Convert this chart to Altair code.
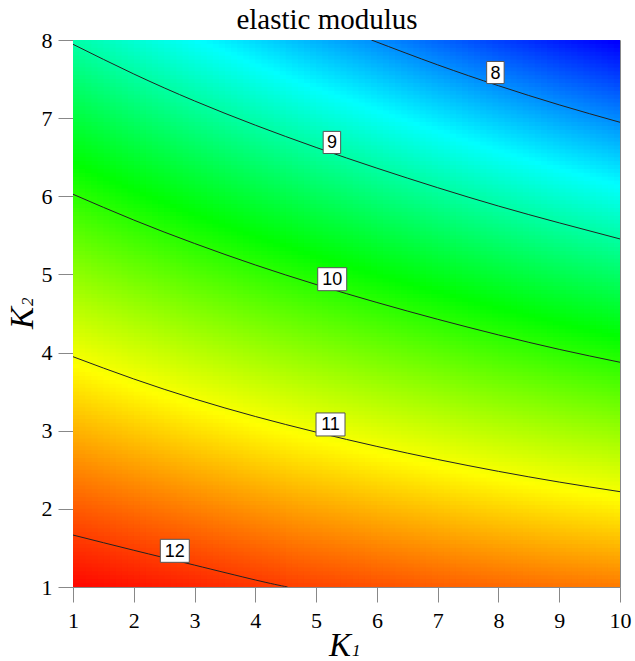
import altair as alt
import numpy as np
import pandas as pd

# ---------------- data ----------------
title_text = "elastic modulus"
k1_ticks = [1, 2, 3, 4, 5, 6, 7, 8, 9, 10]
k2_ticks = [1, 2, 3, 4, 5, 6, 7, 8]

k1_int = [1, 2, 3, 4, 5, 6, 7, 8, 9, 10]

lvl8_k1 = [5.91, 7, 8, 9, 10]
lvl8_k2 = [8.0, 7.682, 7.415, 7.17, 6.947]

lvl9_k1 = k1_int
lvl9_k2 = [7.945, 7.565, 7.22, 6.91, 6.625, 6.36, 6.11, 5.875, 5.66, 5.454]

lvl10_k1 = k1_int
lvl10_k2 = [6.026, 5.696, 5.396, 5.121, 4.871, 4.641, 4.426, 4.226, 4.041, 3.876]

lvl11_k1 = k1_int
lvl11_k2 = [3.947, 3.662, 3.407, 3.182, 2.982, 2.799, 2.632, 2.48, 2.343, 2.22]

lvl12_k1 = [1, 2, 3, 4, 4.53]
lvl12_k2 = [1.665, 1.47, 1.28, 1.09, 1.0]

label_text = ["8", "9", "10", "11", "12"]
label_k1 = [7.95, 5.26, 5.265, 5.237, 2.675]
label_k2 = [7.584, 6.689, 4.939, 3.080, 1.463]

color_domain = [7.3, 8.55, 9.8, 11.05, 12.3]
color_range = ["#0000ff", "#00ffff", "#00ff00", "#ffff00", "#ff0000"]

# ---------------- tables ----------------
contours = {
    8: (lvl8_k1, lvl8_k2),
    9: (lvl9_k1, lvl9_k2),
    10: (lvl10_k1, lvl10_k2),
    11: (lvl11_k1, lvl11_k2),
    12: (lvl12_k1, lvl12_k2),
}

line_rows = []
for lv, (ks, ls) in contours.items():
    for i, (a, b) in enumerate(zip(ks, ls)):
        line_rows.append({"level": lv, "k1": a, "k2": b, "o": i})
line_df = pd.DataFrame(line_rows)

# field rebuilt from the read contour positions (per-column fit of value vs K2)
xs = np.round(np.arange(1.0, 10.0 - 1e-9, 0.1), 3)
ys = np.round(np.arange(1.0, 8.0 - 1e-9, 0.05), 3)
heat_rows = []
for a in xs:
    xc = a + 0.05
    pk2, pv = [], []
    for lv, (ks, ls) in contours.items():
        if ks[0] <= xc <= ks[-1]:
            pk2.append(float(np.interp(xc, ks, ls)))
            pv.append(lv)
    coef = np.polyfit(pk2, pv, 2)
    vals = np.polyval(coef, ys + 0.025)
    for b, v in zip(ys, vals):
        heat_rows.append({"a": float(a), "b": float(b), "v": round(float(v), 3)})
heat_df = pd.DataFrame(heat_rows)

lab_df = pd.DataFrame({"t": label_text, "k1": label_k1, "k2": label_k2})
lab_df["n"] = lab_df["t"].str.len()

# ---------------- scales / axes ----------------
serif = "Liberation Serif"
sans = "Liberation Sans"
xscale = alt.Scale(domain=[1, 10], nice=False, zero=False)
yscale = alt.Scale(domain=[1, 8], nice=False, zero=False)

xaxis = alt.Axis(values=k1_ticks, title=None, grid=False, tickSize=15, tickColor="#888",
                 domainColor="#888", labelFont=serif, labelFontSize=22, labelColor="black",
                 labelPadding=8, labelFlush=False, format="d")
yaxis = alt.Axis(values=k2_ticks, title=None, grid=False, tickSize=15, tickColor="#888",
                 domainColor="#888", labelFont=serif, labelFontSize=22, labelColor="black",
                 labelPadding=6, labelFlush=False, format="d")

heat = alt.Chart(heat_df).transform_calculate(
    a2="datum.a + 0.15", b2="datum.b + 0.075"
).mark_rect(clip=True, opacity=1, strokeWidth=0).encode(
    x=alt.X("a:Q", scale=xscale, axis=xaxis),
    x2="a2:Q",
    y=alt.Y("b:Q", scale=yscale, axis=yaxis),
    y2="b2:Q",
    color=alt.Color("v:Q", scale=alt.Scale(domain=color_domain, range=color_range,
                                           interpolate="rgb", clamp=True), legend=None),
)

lines = alt.Chart(line_df).mark_line(color="#222", strokeWidth=1, interpolate="natural",
                                     clip=True).encode(
    x=alt.X("k1:Q", scale=xscale),
    y=alt.Y("k2:Q", scale=yscale),
    detail="level:N",
    order="o:Q",
)

box1 = alt.Chart(lab_df).transform_filter("datum.n == 1").mark_point(
    shape="M-0.76,-0.96L0.76,-0.96L0.76,0.96L-0.76,0.96Z", size=529,
    fill="white", stroke="#555", strokeWidth=1, opacity=1, fillOpacity=1
).encode(x=alt.X("k1:Q", scale=xscale), y=alt.Y("k2:Q", scale=yscale))

box2 = alt.Chart(lab_df).transform_filter("datum.n == 2").mark_point(
    shape="M-1.26,-1L1.26,-1L1.26,1L-1.26,1Z", size=529,
    fill="white", stroke="#555", strokeWidth=1, opacity=1, fillOpacity=1
).encode(x=alt.X("k1:Q", scale=xscale), y=alt.Y("k2:Q", scale=yscale))

texts = alt.Chart(lab_df).mark_text(font=sans, fontSize=18, color="black",
                                    baseline="middle", align="center", dy=1).encode(
    x=alt.X("k1:Q", scale=xscale), y=alt.Y("k2:Q", scale=yscale), text="t:N")

ann = pd.DataFrame({"t": [title_text]})
title_t = alt.Chart(ann).mark_text(font=serif, fontSize=29, color="black",
                                   align="center", baseline="alphabetic").encode(
    text="t:N", x=alt.value(254), y=alt.value(-11))

kx = alt.Chart(pd.DataFrame({"t": ["K"]})).mark_text(
    font=serif, fontSize=33, fontStyle="italic", color="black", align="left",
    baseline="alphabetic").encode(text="t:N", x=alt.value(256), y=alt.value(616))
kx1 = alt.Chart(pd.DataFrame({"t": ["1"]})).mark_text(
    font=serif, fontSize=17, fontStyle="italic", color="black", align="left",
    baseline="alphabetic").encode(text="t:N", x=alt.value(279), y=alt.value(616))
ky = alt.Chart(pd.DataFrame({"t": ["K"]})).mark_text(
    font=serif, fontSize=33, fontStyle="italic", color="black", align="left",
    baseline="alphabetic", angle=270).encode(text="t:N", x=alt.value(-40), y=alt.value(289))
ky2 = alt.Chart(pd.DataFrame({"t": ["2"]})).mark_text(
    font=serif, fontSize=17, fontStyle="italic", color="black", align="left",
    baseline="alphabetic", angle=270).encode(text="t:N", x=alt.value(-40), y=alt.value(266))

chart = alt.layer(heat, lines, box1, box2, texts, title_t, kx, kx1, ky, ky2).properties(
    width=547, height=547,
    padding={"left": 73, "top": 40, "right": 15, "bottom": 74},
    autosize=alt.AutoSizeParams(type="none"),
).configure_view(stroke="#888", strokeWidth=1)

chart.save("out.html", embed_options={"renderer": "svg", "actions": False})
